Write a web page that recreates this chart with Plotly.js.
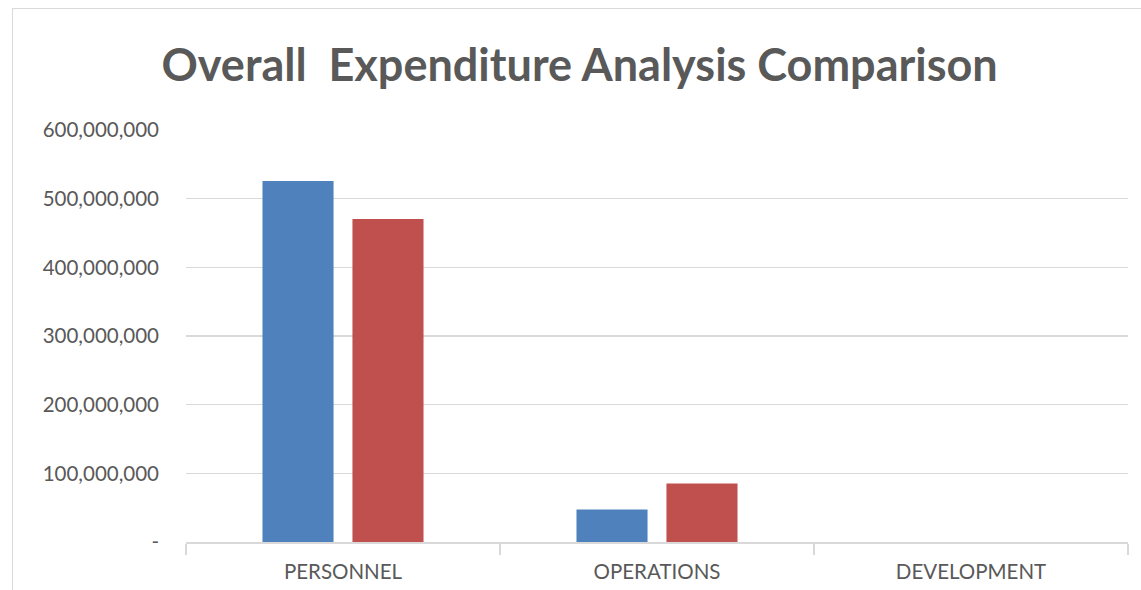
<!DOCTYPE html>
<html>
<head>
<meta charset="utf-8">
<script src="https://cdn.plot.ly/plotly-3.0.1.min.js"></script>
<style>
html,body{margin:0;padding:0;background:#fff;}
#chart{width:1141px;height:590px;}
#frame{position:absolute;left:12px;top:8px;width:1140px;height:600px;border:1.5px solid #d9d9d9;pointer-events:none;box-sizing:border-box;}
</style>
</head>
<body>
<div id="chart"></div>
<div id="frame"></div>
<script>
var categories = ["PERSONNEL", "OPERATIONS", "DEVELOPMENT"];
var series1 = [525700000, 47400000, 0];
var series2 = [470300000, 85300000, 0];
var yTickVals = [0, 100000000, 200000000, 300000000, 400000000, 500000000, 600000000];
var yTickText = ["-", "100,000,000", "200,000,000", "300,000,000", "400,000,000", "500,000,000", "600,000,000"];

var traces = [
  {type: "bar", name: "Series 1", x: categories, y: series1, marker: {color: "#4F81BD"}},
  {type: "bar", name: "Series 2", x: categories, y: series2, marker: {color: "#C0504D"}}
];

var layout = {
  width: 1141, height: 590,
  paper_bgcolor: "#ffffff", plot_bgcolor: "#ffffff",
  margin: {l: 186, r: 13, t: 130, b: 48},
  showlegend: false,
  barmode: "group",
  bargap: 0.427,
  bargroupgap: 0.21,
  font: {family: "Lato, 'Open Sans', sans-serif", color: "#595959"},
  title: {
    text: "Overall  Expenditure Analysis Comparison",
    font: {family: "Lato, sans-serif", size: 45, color: "#595959", weight: "bold"},
    x: 0.508, xanchor: "center", y: 0.89, yanchor: "middle"
  },
  xaxis: {
    type: "category",
    showgrid: false,
    showline: true, linecolor: "#d9d9d9", linewidth: 1.5,
    ticks: "outside", tickson: "boundaries", ticklen: 11, tickcolor: "#d9d9d9", tickwidth: 1.5,
    tickfont: {size: 20.5, color: "#595959"},
    ticklabelstandoff: 11,
    zeroline: false
  },
  yaxis: {
    range: [0, 600000000],
    tickvals: yTickVals, ticktext: yTickText,
    showgrid: true, gridcolor: "#d9d9d9", gridwidth: 1.5,
    zeroline: false, showline: false,
    ticks: "", ticklabelstandoff: 26,
    tickfont: {size: 20.5, color: "#595959"}
  }
};

Plotly.newPlot("chart", traces, layout, {displayModeBar: false, staticPlot: true});
</script>
</body>
</html>
